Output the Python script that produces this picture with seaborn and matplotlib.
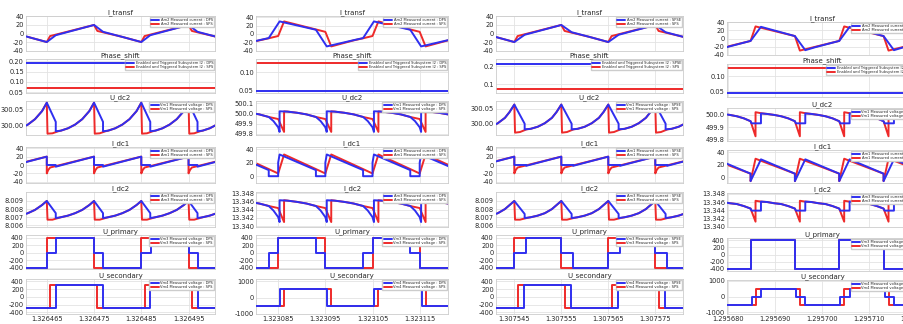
import numpy as np
import matplotlib.pyplot as plt
import seaborn as sns

# Scope captures of a DAB converter: DPS/SPSE (blue) against SPS (red)
# time in microseconds, relative to the primary bridge switching edge

# column setup: first tick value, edge position, switching period, visible window
col_tick0 = [1.326465, 1.323085, 1.307545, 1.295680]
col_ref = [0.0, 0.0, 0.0, 4.8]
col_period = [20.0, 20.0, 20.0, 18.8]
col_xlim = [(-4.4, 35.6), (-4.7, 36.0), (-3.9, 35.9), (-0.2, 40.3)]
col_names = [("DPS", "SPS"), ("DPS", "SPS"), ("SPSE", "SPS"), ("SPSE", "SPS")]

row_titles = ["I_transf", "Phase_shift", "U_dc2", "I_dc1", "I_dc2", "U_primary", "U_secondary"]
row_sources = ["Am2 Measured current", "Enabled and Triggered Subsystem I2", "Vm1 Measured voltage",
               "Am1 Measured current", "Am3 Measured current", "Vm3 Measured voltage",
               "Vm4 Measured voltage"]

# ---- column 1 (300 V, DPS vs SPS) ----
c1_itr_dps = [(-4, -8), (0, -20), (1.9, -4), (10, 20), (11.9, 4), (16, -8)]
c1_itr_sps = [(-4, -8), (0, -20), (0.7, -6), (10, 20), (10.7, 6), (16, -8)]
c1_phase_dps = 0.19
c1_phase_sps = 0.07
c1_udc2_dps = [(0, 300.069), (1.9, 300.012), (1.9, 299.984), (3, 299.986), (4.5, 299.993),
               (6, 300.004), (7.5, 300.02), (9, 300.044), (10, 300.069)]
c1_udc2_sps = [(0, 300.069), (0.15, 299.977), (1.2, 299.978), (2.4, 299.984), (3, 299.986),
               (4.5, 299.993), (6, 300.004), (7.5, 300.02), (9, 300.044), (10, 300.069)]
c1_idc1_dps = [(0, 0), (1.9, 0), (1.9, -4), (10, 20)]
c1_idc1_sps = [(0, -20), (0.3, -12), (0.7, -6), (10, 20)]
c1_idc2_dps = [(0, 8.0090), (1.9, 8.0075), (1.9, 8.0069), (3, 8.0070), (4.5, 8.0072),
               (6, 8.0075), (7.5, 8.0079), (9, 8.0085), (10, 8.0090)]
c1_idc2_sps = [(0, 8.0090), (0.15, 8.0067), (1.2, 8.0067), (2.4, 8.0069), (3, 8.0070),
               (4.5, 8.0072), (6, 8.0075), (7.5, 8.0079), (9, 8.0085), (10, 8.0090)]
c1_uprim_dps = [(-4, -400), (0, -400), (0, 0), (2, 0), (2, 400), (10, 400), (10, 0),
                (12, 0), (12, -400), (16, -400)]
c1_uprim_sps = [(-4, -400), (0, -400), (0, 400), (10, 400), (10, -400), (16, -400)]
c1_usec_dps = [(-4, -300), (1.9, -300), (1.9, 300), (11.9, 300), (11.9, -300), (16, -300)]
c1_usec_sps = [(-4, -300), (0.7, -300), (0.7, 300), (10.7, 300), (10.7, -300), (16, -300)]

# ---- column 2 (500 V, DPS vs SPS) ----
c2_itr_dps = [(-4, -15), (-2, -10), (0.3, 30), (8, 10), (10.3, -30), (16, -15)]
c2_itr_sps = [(-4, -15.5), (-2, -10.5), (0, -5), (1.25, 30), (10, 5), (11.25, -30), (16, -15.5)]
c2_phase_dps = 0.048
c2_phase_sps = 0.127
c2_udc2_dps = [(-2, 499.965), (-1, 499.925), (0, 499.865), (0.3, 499.82), (0.3, 500.02),
               (2, 500.017), (4, 500.006), (6, 499.99), (8, 499.965)]
c2_udc2_sps = [(-2, 499.965), (0, 499.945), (1.25, 499.82), (1.25, 500.019), (2, 500.017),
               (4, 500.006), (6, 499.99), (8, 499.965)]
c2_idc1_dps = [(-2, 0), (0, 0), (0, 20), (0.3, 32), (8, 9)]
c2_idc1_sps = [(-2, 10.5), (0, 4), (1.25, 32), (8, 10.5)]
c2_idc2_dps = [(-2, 13.3449), (-1, 13.3438), (0, 13.3422), (0.3, 13.3410), (0.3, 13.3463),
               (2, 13.3462), (4, 13.3459), (6, 13.3455), (8, 13.3449)]
c2_idc2_sps = [(-2, 13.3449), (0, 13.3444), (1.25, 13.3410), (1.25, 13.3463), (2, 13.3462),
               (4, 13.3459), (6, 13.3455), (8, 13.3449)]
c2_uprim_dps = [(-4, -400), (-2, -400), (-2, 0), (0, 0), (0, 400), (8, 400), (8, 0),
                (10, 0), (10, -400), (16, -400)]
c2_uprim_sps = [(-4, -400), (0, -400), (0, 400), (10, 400), (10, -400), (16, -400)]
c2_usec_dps = [(-4, -500), (0.4, -500), (0.4, 500), (10.4, 500), (10.4, -500), (16, -500)]
c2_usec_sps = [(-4, -500), (1.25, -500), (1.25, 500), (11.25, 500), (11.25, -500), (16, -500)]

# ---- column 3 (300 V, SPSE vs SPS) ----
c3_itr_dps = [(-4, -8), (0, -20), (2.2, -3), (10, 20), (12.2, 3), (16, -8)]
c3_itr_sps = [(-4, -8), (0, -20), (0.7, -6), (10, 20), (10.7, 6), (16, -8)]
c3_phase_dps = 0.21
c3_phase_sps = 0.07
c3_udc2_dps = [(0, 300.065), (2.2, 300.0), (2.2, 299.981), (3.5, 299.983), (5, 299.99),
               (6.5, 300.002), (8, 300.02), (9, 300.04), (10, 300.065)]
c3_udc2_sps = [(0, 300.065), (0.15, 299.970), (1.2, 299.972), (2.6, 299.981), (3.5, 299.983),
               (5, 299.99), (6.5, 300.002), (8, 300.02), (9, 300.04), (10, 300.065)]
c3_idc1_dps = [(0, 0), (2.5, 0), (2.5, -2), (10, 20)]
c3_idc1_sps = [(0, -20), (0.3, -12), (0.7, -6), (10, 20)]
c3_idc2_dps = [(0, 8.0090), (2.2, 8.0074), (2.2, 8.0069), (3.5, 8.0070), (5, 8.0072),
               (6.5, 8.0075), (8, 8.0080), (9, 8.0085), (10, 8.0090)]
c3_idc2_sps = [(0, 8.0090), (0.15, 8.0067), (1.2, 8.0067), (2.6, 8.0069), (3.5, 8.0070),
               (5, 8.0072), (6.5, 8.0075), (8, 8.0080), (9, 8.0085), (10, 8.0090)]
c3_uprim_dps = [(-4, -400), (0, -400), (0, 0), (2.5, 0), (2.5, 400), (10, 400), (10, 0),
                (12.5, 0), (12.5, -400), (16, -400)]
c3_uprim_sps = [(-4, -400), (0, -400), (0, 400), (10, 400), (10, -400), (16, -400)]
c3_usec_dps = [(-4, -300), (2.1, -300), (2.1, 300), (12.1, 300), (12.1, -300), (16, -300)]
c3_usec_sps = [(-4, -300), (0.7, -300), (0.7, 300), (10.7, 300), (10.7, -300), (16, -300)]

# ---- column 4 (500 V, SPSE vs SPS) ----
c4_itr_dps = [(-5, -21.3), (0, -6), (2.2, 29), (9.4, 6), (11.6, -29), (13.8, -21.3)]
c4_itr_sps = [(-5, -20.4), (0, -6), (1.05, 30), (9.4, 6), (10.45, -30), (13.8, -20.4)]
c4_phase_dps = 0.043
c4_phase_sps = 0.126
c4_udc2_dps = [(0, 499.947), (0.2, 499.93), (2.2, 499.93), (2.2, 500.010), (3.5, 500.006),
               (5, 499.998), (6.5, 499.987), (8, 499.97), (9.4, 499.947)]
c4_udc2_sps = [(0, 499.947), (1.05, 499.825), (1.05, 500.02), (2.2, 500.012), (3.5, 500.006),
               (5, 499.998), (6.5, 499.987), (8, 499.97), (9.4, 499.947)]
c4_idc1_dps = [(0, -6), (2.2, 29), (9.4, 6)]
c4_idc1_sps = [(0, -6), (1.05, 30), (9.4, 6)]
c4_idc2_dps = [(0, 13.3444), (0.2, 13.3439), (2.2, 13.3439), (2.2, 13.3461), (3.5, 13.3460),
               (5, 13.3457), (6.5, 13.3455), (8, 13.3450), (9.4, 13.3444)]
c4_idc2_sps = [(0, 13.3444), (1.05, 13.3412), (1.05, 13.3463), (2.2, 13.3461), (3.5, 13.3460),
               (5, 13.3457), (6.5, 13.3455), (8, 13.3450), (9.4, 13.3444)]
c4_uprim_dps = [(-5, -400), (0, -400), (0, 400), (9.4, 400), (9.4, -400), (13.8, -400)]
c4_uprim_sps = [(-5, -400), (0, -400), (0, 400), (9.4, 400), (9.4, -400), (13.8, -400)]
c4_usec_dps = [(-5, -500), (0.2, -500), (0.2, 0), (2.2, 0), (2.2, 500), (9.6, 500), (9.6, 0),
               (11.6, 0), (11.6, -500), (13.8, -500)]
c4_usec_sps = [(-5, -500), (1.05, -500), (1.05, 500), (10.45, 500), (10.45, -500), (13.8, -500)]

traces = [
    [(c1_itr_dps, c1_itr_sps), (c1_phase_dps, c1_phase_sps), (c1_udc2_dps, c1_udc2_sps),
     (c1_idc1_dps, c1_idc1_sps), (c1_idc2_dps, c1_idc2_sps), (c1_uprim_dps, c1_uprim_sps),
     (c1_usec_dps, c1_usec_sps)],
    [(c2_itr_dps, c2_itr_sps), (c2_phase_dps, c2_phase_sps), (c2_udc2_dps, c2_udc2_sps),
     (c2_idc1_dps, c2_idc1_sps), (c2_idc2_dps, c2_idc2_sps), (c2_uprim_dps, c2_uprim_sps),
     (c2_usec_dps, c2_usec_sps)],
    [(c3_itr_dps, c3_itr_sps), (c3_phase_dps, c3_phase_sps), (c3_udc2_dps, c3_udc2_sps),
     (c3_idc1_dps, c3_idc1_sps), (c3_idc2_dps, c3_idc2_sps), (c3_uprim_dps, c3_uprim_sps),
     (c3_usec_dps, c3_usec_sps)],
    [(c4_itr_dps, c4_itr_sps), (c4_phase_dps, c4_phase_sps), (c4_udc2_dps, c4_udc2_sps),
     (c4_idc1_dps, c4_idc1_sps), (c4_idc2_dps, c4_idc2_sps), (c4_uprim_dps, c4_uprim_sps),
     (c4_usec_dps, c4_usec_sps)],
]
# rows that repeat every half switching period (dc side quantities)
half_period_rows = [2, 3, 4]

pm40 = [-40, -20, 0, 20, 40]
pm400 = [-400, -200, 0, 200, 400]
dc2_300 = [8.006, 8.007, 8.008, 8.009]
dc2_500 = [13.340, 13.342, 13.344, 13.346, 13.348]
yticks = [
    [pm40, [0.05, 0.10, 0.15, 0.20], [300.00, 300.05], pm40, dc2_300, pm400, pm400],
    [pm40, [0.05, 0.10], [499.8, 499.9, 500.0, 500.1], [0, 20, 40], dc2_500, pm400, [-1000, 0, 1000]],
    [pm40, [0.1, 0.2], [300.00, 300.05], pm40, dc2_300, pm400, pm400],
    [pm40, [0.05, 0.10], [499.8, 499.9, 500.0], [0, 20, 40], dc2_500, pm400, [-1000, 0, 1000]],
]
yfmt = [
    ["%d", "%.2f", "%.2f", "%d", "%.3f", "%d", "%d"],
    ["%d", "%.2f", "%.1f", "%d", "%.3f", "%d", "%d"],
    ["%d", "%.1f", "%.2f", "%d", "%.3f", "%d", "%d"],
    ["%d", "%.2f", "%.1f", "%d", "%.3f", "%d", "%d"],
]
ylims = [
    [(-41, 41), (0.047, 0.21), (299.973, 300.074), (-43, 43), (8.0058, 8.0101), (-440, 470), (-445, 460)],
    [(-41, 43), (0.042, 0.137), (499.79, 500.12), (-10, 43), (13.3398, 13.3483), (-440, 470), (-1020, 1150)],
    [(-41, 41), (0.05, 0.24), (299.962, 300.077), (-43, 43), (8.0058, 8.0101), (-440, 470), (-445, 460)],
    [(-41, 41), (0.03, 0.141), (499.787, 500.054), (-9, 44), (13.3399, 13.3482), (-460, 465), (-1100, 1060)],
]


def periodic(points, period, ref, lo, hi):
    t = np.array([p[0] for p in points], dtype=float)
    y = np.array([p[1] for p in points], dtype=float)
    k0 = int(np.floor((lo - ref - t[-1]) / period))
    k1 = int(np.ceil((hi - ref - t[0]) / period))
    ks = range(k0, k1 + 1)
    x = np.concatenate([ref + t + k * period for k in ks])
    return x, np.tile(y, len(ks))


sns.set_theme(style="whitegrid")
plt.rcParams['font.family'] = ['DejaVu Sans']
plt.rcParams['axes.edgecolor'] = '#cccccc'
plt.rcParams['grid.color'] = '#e3e3e3'
plt.rcParams['grid.linewidth'] = 0.6

W, H = 904, 324
fig = plt.figure(figsize=(W / 100, H / 100), dpi=100)
fig.patch.set_facecolor('white')

col_left = [26, 256, 496, 727]
col_width = [189, 192, 187, 191]
row_top = [[16, 59, 101, 147, 192, 235, 279]] * 3 + [[22, 64, 108, 150, 193, 238, 280]]
row_h = [[35, 34, 34, 36, 35, 34, 35]] * 3 + [[33, 33, 33, 33, 34, 33, 34]]

blue = '#2f2ff0'
red = '#ee2a2a'

for c in range(4):
    lo, hi = col_xlim[c]
    xt = [v for v in (0, 10, 20, 30, 40) if lo <= v <= hi]
    for r in range(7):
        top, h = row_top[c][r], row_h[c][r]
        ax = fig.add_axes([col_left[c] / W, 1 - (top + h) / H, col_width[c] / W, h / H])
        dps, sps = traces[c][r]
        period = col_period[c] / 2 if r in half_period_rows else col_period[c]
        for tr, color, tag, z in ((dps, blue, col_names[c][0], 3), (sps, red, col_names[c][1], 2)):
            if r == 1:
                x, y = np.array([lo - 1, hi + 1]), np.array([tr, tr])
            else:
                x, y = periodic(tr, period, col_ref[c], lo, hi)
            sns.lineplot(x=x, y=y, ax=ax, color=color, lw=1.4, estimator=None, sort=False,
                         label=f"{row_sources[r]} : {tag}", zorder=z)
        ax.set_xlim(lo, hi)
        ax.set_ylim(*ylims[c][r])
        ax.set_xticks(xt)
        if r == 6:
            ax.set_xticklabels([f"{col_tick0[c] + v * 1e-6:.6f}" for v in xt])
        else:
            ax.set_xticklabels([])
        ax.set_yticks(yticks[c][r])
        ax.set_yticklabels([yfmt[c][r] % v for v in yticks[c][r]])
        ax.tick_params(axis='both', length=0, pad=1.5, labelsize=4.8)
        ax.set_title(row_titles[r], fontsize=5, pad=1.5)
        ax.set_xlabel('')
        ax.set_ylabel('')
        for s in ax.spines.values():
            s.set_linewidth(0.6)
        ax.legend(loc='upper right', fontsize=2.6, frameon=True, framealpha=1,
                  edgecolor='#cccccc', borderpad=0.3, labelspacing=0.15, handlelength=2.2,
                  handletextpad=0.5, borderaxespad=0.2, fancybox=False)

fig.savefig('out.png', dpi=100)
